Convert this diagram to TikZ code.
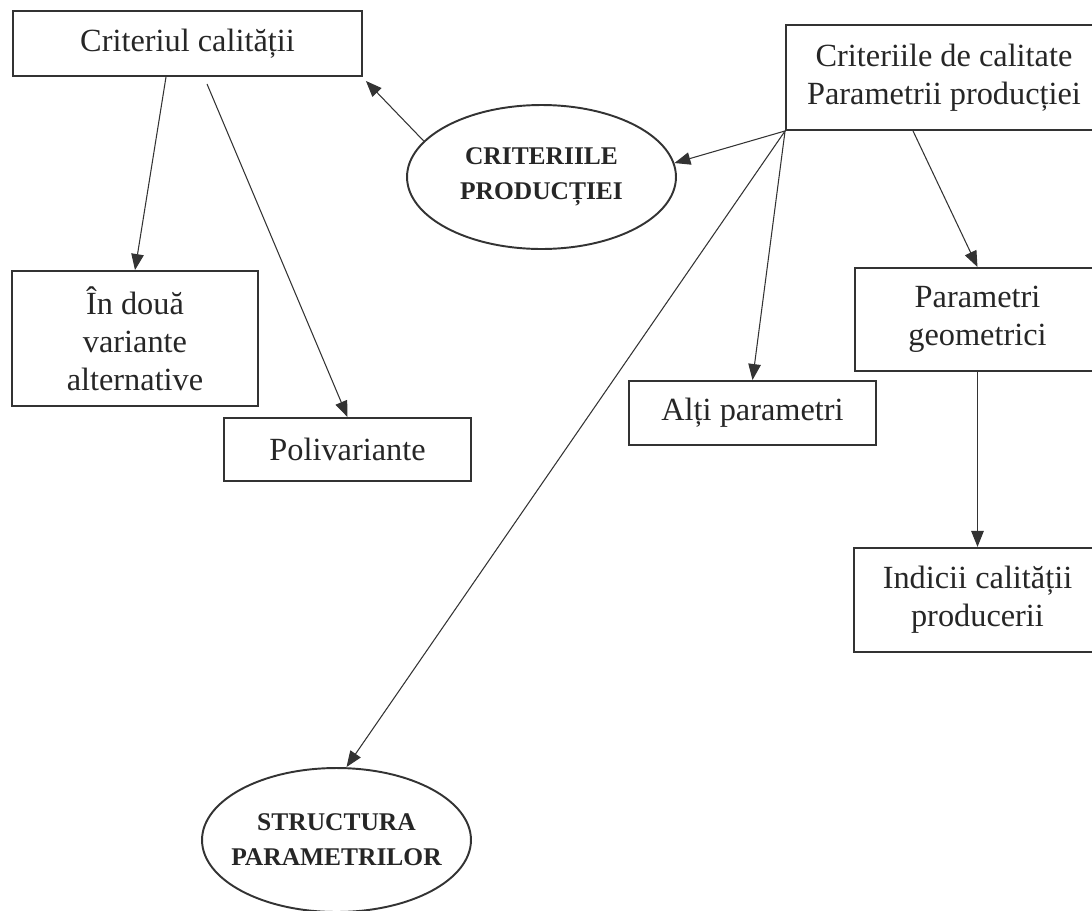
\documentclass[tikz,border=0pt]{standalone}
\usepackage{fontspec}
\setmainfont{Liberation Serif}
\usepackage{tikz}
\tikzset{box node/.style={rectangle,draw=black!80,text=black!85,line width=1.1pt,align=center,inner sep=2pt,font=\fontsize{18.4}{21.5}\selectfont},
oval node/.style={ellipse,draw=black!80,text=black!85,line width=1.1pt,align=center,inner sep=1pt,minimum width=5.38cm,minimum height=2.88cm,font=\bfseries\fontsize{14.5}{20}\selectfont},
}
\usetikzlibrary{positioning,shapes.geometric,arrows.meta}

\begin{document}
\begin{tikzpicture}[x=0.02cm,y=-0.02cm,>={Triangle[length=0.32cm,width=0.25cm]}]
\path[use as bounding box,clip] (0,0) rectangle (1092,910);

\node[box node,minimum width=6.98cm,minimum height=1.3cm] (calit) at (187.5,43.5) {Criteriul calității};
\node[box node,minimum width=6.32cm,minimum height=2.1cm] (criterii) at (944,77.5) {Criteriile de calitate\\Parametrii producției};
\node[oval node] (productie) at (541.5,177) {CRITERIILE\\PRODUCȚIEI};
\node[box node,minimum width=4.92cm,minimum height=2.7cm] (doua) at (135,338.5) {În două\\variante\\alternative};
\node[box node,minimum width=4.94cm,minimum height=1.26cm] (poli) at (347.5,449.5) {Polivariante};
\node[box node,minimum width=4.94cm,minimum height=1.28cm] (alti) at (752.5,413) {Alți parametri};
\node[box node,minimum width=4.9cm,minimum height=2.06cm] (geom) at (977.5,319.5) {Parametri\\geometrici};
\node[box node,minimum width=4.96cm,minimum height=2.08cm] (indicii) [below = 3.5cm of geom] {Indicii calității\\producerii};
\node[oval node,inner xsep=-7pt] (structura) at (336.5,840) {STRUCTURA\\PARAMETRILOR};

\path[->,black!80,line width=0.6pt]
([xshift=-0.43cm]calit.south) edge (doua.north)
([xshift=0.39cm,yshift=-0.14cm]calit.south) edge (poli.north)
(productie.163) edge ([xshift=0.06cm,yshift=-0.08cm]calit.south east)
(criterii.south west) edge (productie.6)
(criterii.south west) edge (alti.north)
(criterii.south west) edge ([xshift=0.2cm]structura.north)
([xshift=-0.62cm]criterii.south) edge (geom.north)
(geom.south) edge (indicii.north)
;
\end{tikzpicture}
\end{document}
